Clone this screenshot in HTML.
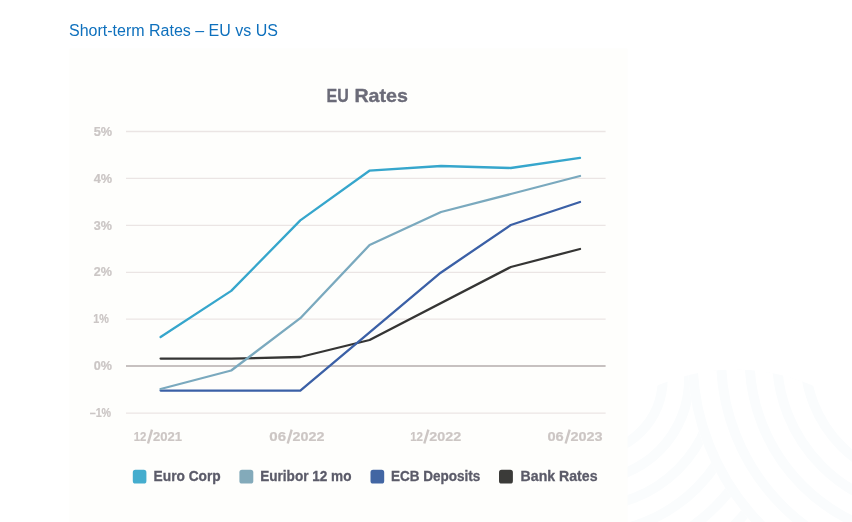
<!DOCTYPE html>
<html><head><meta charset="utf-8">
<style>
html,body{margin:0;padding:0;background:#fff;}
body{width:852px;height:522px;overflow:hidden;position:relative;font-family:"Liberation Sans",sans-serif;}
#hd{position:absolute;left:69px;top:22px;font-size:16px;color:#0e70bd;will-change:transform;white-space:nowrap;line-height:18px;}
svg{position:absolute;left:0;top:0;will-change:transform;}
text{font-family:"Liberation Sans",sans-serif;font-weight:bold;}
</style></head><body>
<svg width="852" height="522" viewBox="0 0 852 522">
<defs>
<clipPath id="lower"><circle cx="735" cy="564.2" r="194.7"/></clipPath>
</defs>
<!-- faint watermark -->
<g clip-path="url(#lower)" fill="none" stroke="#fafcfd" stroke-width="10">
<circle cx="588" cy="379" r="74.7"/>
<circle cx="588" cy="379" r="101.1"/>
<circle cx="588" cy="379" r="127.6"/>
<circle cx="588" cy="379" r="154"/>
<circle cx="588" cy="379" r="180.4"/>
<circle cx="588" cy="379" r="206.8"/>
<circle cx="930" cy="358" r="242.5" fill="#fff" stroke="none"/>
<circle cx="930" cy="358" r="237.5"/>
<circle cx="930" cy="358" r="209"/>
<circle cx="930" cy="358" r="180.5"/>
<circle cx="930" cy="358" r="153"/>
<circle cx="930" cy="358" r="125"/>
</g>
<!-- chart panel -->
<rect x="69.4" y="48.5" width="558.2" height="480" fill="#fefefc"/>
<g stroke="#ebe5e4" stroke-width="1.3">
<line x1="126" x2="605.6" y1="131.5" y2="131.5"/>
<line x1="126" x2="605.6" y1="178.4" y2="178.4"/>
<line x1="126" x2="605.6" y1="225.4" y2="225.4"/>
<line x1="126" x2="605.6" y1="272.3" y2="272.3"/>
<line x1="126" x2="605.6" y1="319.2" y2="319.2"/>
<line x1="126" x2="605.6" y1="413.1" y2="413.1"/>
</g>
<line x1="126" x2="605.6" y1="366.1" y2="366.1" stroke="#c7c1c0" stroke-width="2"/>
<g font-size="18.5" fill="#6b6b78" stroke="#6b6b78" stroke-width="0.35">
<text x="326.5" y="102.1" textLength="22.2" lengthAdjust="spacingAndGlyphs">EU</text>
<text x="354.4" y="102.1" textLength="53.5" lengthAdjust="spacingAndGlyphs">Rates</text>
</g>
<g font-size="12.7" fill="#cbc6c5" stroke="#cbc6c5" stroke-width="0.2">
<text x="93.8" y="135.6" textLength="18.4" lengthAdjust="spacingAndGlyphs">5%</text>
<text x="93.8" y="182.5" textLength="18.4" lengthAdjust="spacingAndGlyphs">4%</text>
<text x="93.8" y="229.5" textLength="18.2" lengthAdjust="spacingAndGlyphs">3%</text>
<text x="93.8" y="276.4" textLength="18.2" lengthAdjust="spacingAndGlyphs">2%</text>
<text x="93.3" y="323.3" textLength="15.6" lengthAdjust="spacingAndGlyphs">1%</text>
<text x="93.8" y="370.2" textLength="18.2" lengthAdjust="spacingAndGlyphs">0%</text>
<text x="89.7" y="417.2" textLength="21.4" lengthAdjust="spacingAndGlyphs">–1%</text>
</g>
<g font-size="13.4" fill="#ccc6c4" stroke="#ccc6c4" stroke-width="0.2">
<text x="133.8" y="440.9" textLength="12.6" lengthAdjust="spacingAndGlyphs">12</text><line x1="152.0" y1="429.6" x2="148.0" y2="443.5" stroke-width="2.4"/><text x="152.9" y="440.9" textLength="29.0" lengthAdjust="spacingAndGlyphs">2021</text>
<text x="269.3" y="440.9" textLength="16.8" lengthAdjust="spacingAndGlyphs">06</text><line x1="291.7" y1="429.6" x2="287.7" y2="443.5" stroke-width="2.4"/><text x="292.6" y="440.9" textLength="31.8" lengthAdjust="spacingAndGlyphs">2022</text>
<text x="410.2" y="440.9" textLength="12.8" lengthAdjust="spacingAndGlyphs">12</text><line x1="428.4" y1="429.6" x2="424.3" y2="443.5" stroke-width="2.4"/><text x="429.3" y="440.9" textLength="31.9" lengthAdjust="spacingAndGlyphs">2022</text>
<text x="547.4" y="440.9" textLength="16.3" lengthAdjust="spacingAndGlyphs">06</text><line x1="569.7" y1="429.6" x2="565.6" y2="443.5" stroke-width="2.4"/><text x="570.5" y="440.9" textLength="32.1" lengthAdjust="spacingAndGlyphs">2023</text>
</g>
<g fill="none" stroke-width="2.3" stroke-linejoin="round" stroke-linecap="round">
<polyline stroke="#353534" points="160.6,358.6 231.2,358.6 300.3,357 369.6,340 510.8,267 580,249"/>
<polyline stroke="#3b60a6" points="160.6,390.6 300.3,390.6 440.7,272.7 510.8,225 580,202"/>
<polyline stroke="#7aa9be" points="160.6,389 231.2,370.5 300.3,318.2 369.6,245 441,212 510.8,194 580,176"/>
<polyline stroke="#36a6cc" points="160.6,337 231.2,290.9 300.3,220.4 369.4,170.7 441,166 510.8,168 580,157.8"/>
</g>
<g font-size="14" fill="#5b5b69" stroke="#5b5b69" stroke-width="0.3">
<rect x="132.8" y="469.8" width="13.6" height="13.8" rx="2.6" stroke="none" fill="#45adce"/><text x="153.6" y="481.4" textLength="67.1" lengthAdjust="spacingAndGlyphs">Euro Corp</text>
<rect x="239.4" y="469.8" width="13.9" height="13.8" rx="2.6" stroke="none" fill="#83aaba"/><text x="260.2" y="481.4" textLength="91.3" lengthAdjust="spacingAndGlyphs">Euribor 12 mo</text>
<rect x="370.5" y="469.8" width="13.7" height="13.8" rx="2.6" stroke="none" fill="#4266a3"/><text x="391" y="481.4" textLength="89.3" lengthAdjust="spacingAndGlyphs">ECB Deposits</text>
<rect x="499" y="469.8" width="13.9" height="13.8" rx="2.6" stroke="none" fill="#3b3b39"/><text x="520.6" y="481.4" textLength="76.9" lengthAdjust="spacingAndGlyphs">Bank Rates</text>
</g>
</svg>
<div id="hd">Short-term Rates – EU vs US</div>
</body></html>
